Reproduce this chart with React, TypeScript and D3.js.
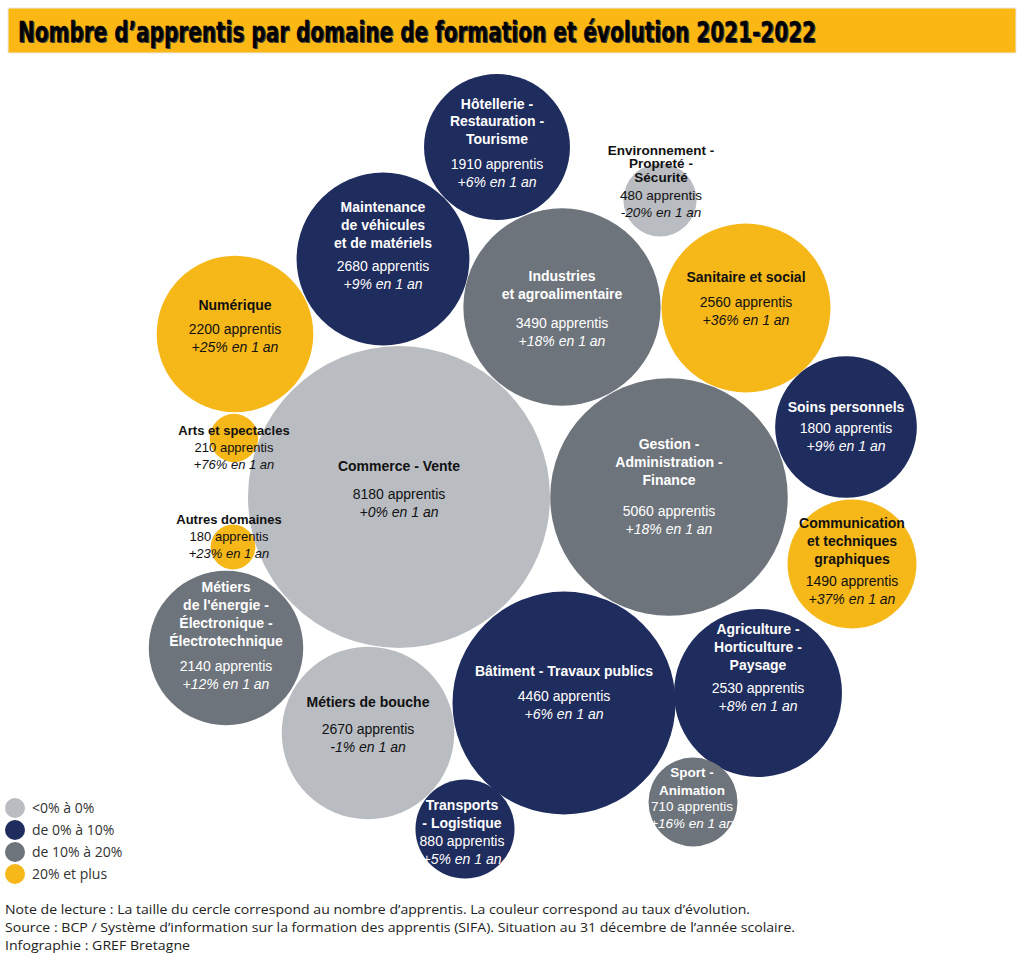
import React from "react";
import * as d3 from "d3";

// ---- Data ----
const domains = [
  "Commerce - Vente",
  "Gestion - Administration - Finance",
  "Bâtiment - Travaux publics",
  "Industries et agroalimentaire",
  "Maintenance de véhicules et de matériels",
  "Métiers de bouche",
  "Sanitaire et social",
  "Agriculture - Horticulture - Paysage",
  "Numérique",
  "Métiers de l'énergie - Électronique - Électrotechnique",
  "Hôtellerie - Restauration - Tourisme",
  "Soins personnels",
  "Communication et techniques graphiques",
  "Transports - Logistique",
  "Sport - Animation",
  "Environnement - Propreté - Sécurité",
  "Arts et spectacles",
  "Autres domaines",
];
const nameLines: string[][] = [
  ["Commerce - Vente"],
  ["Gestion -", "Administration -", "Finance"],
  ["Bâtiment - Travaux publics"],
  ["Industries", "et agroalimentaire"],
  ["Maintenance", "de véhicules", "et de matériels"],
  ["Métiers de bouche"],
  ["Sanitaire et social"],
  ["Agriculture -", "Horticulture -", "Paysage"],
  ["Numérique"],
  ["Métiers", "de l'énergie -", "Électronique -", "Électrotechnique"],
  ["Hôtellerie -", "Restauration -", "Tourisme"],
  ["Soins personnels"],
  ["Communication", "et techniques", "graphiques"],
  ["Transports", "- Logistique"],
  ["Sport -", "Animation"],
  ["Environnement -", "Propreté -", "Sécurité"],
  ["Arts et spectacles"],
  ["Autres domaines"],
];
const apprentis = [8180, 5060, 4460, 3490, 2680, 2670, 2560, 2530, 2200, 2140, 1910, 1800, 1490, 880, 710, 480, 210, 180];
const evolution = [0, 18, 6, 18, 9, -1, 36, 8, 25, 12, 6, 9, 37, 5, 16, -20, 76, 23];

const legendLabels = ["<0% à 0%", "de 0% à 10%", "de 10% à 20%", "20% et plus"];
const palette = ["#b9bcc1", "#1f2c5e", "#6e747c", "#f6b719"];

// ---- Layout (bubble placement, label placement) ----
const centerX = [399, 669, 564, 562, 383, 368, 746, 758, 235, 226, 497, 846, 852, 465, 693, 660, 234, 233];
const centerY = [497, 497, 703, 307, 259, 733, 308, 693, 334, 648, 147, 427, 564, 829, 802, 200, 438, 547];
const labelX = [399, 669, 564, 562, 383, 368, 746, 758, 235, 226, 497, 846, 852, 462, 692, 661, 234, 229];
const nameY = [466, 444, 671, 276, 207, 702, 277, 629, 305, 587, 104, 407, 523, 805, 772, 150, 430, 519];
const valueY = [494, 511, 696, 323, 266, 729, 302, 688, 329, 666, 164, 428, 581, 841, 806, 195, 447, 536];
const lineGap = [18, 18, 18, 18, 18, 18, 18, 18, 18, 18, 17.5, 18, 18, 18, 18, 13.5, 18, 18];
const fontSz = [14, 14, 14, 14, 14, 14, 14, 14, 14, 14, 14, 14, 14, 14, 13.5, 13.5, 13, 13];

const footer = [
  "Note de lecture : La taille du cercle correspond au nombre d’apprentis. La couleur correspond au taux d’évolution.",
  "Source : BCP / Système d’information sur la formation des apprentis (SIFA). Situation au 31 décembre de l’année scolaire.",
  "Infographie : GREF Bretagne",
];
const footerWidths = [745, 790, 185];

export default function App() {
  const radius = d3.scaleSqrt().domain([0, d3.max(apprentis) as number]).range([0, 151]);
  const color = d3.scaleThreshold<number, string>().domain([1, 10, 20]).range(palette);
  const textColor = (ev: number) => {
    const c = color(ev);
    return c === palette[1] || c === palette[2] ? "#ffffff" : "#111111";
  };
  const fmtEv = (ev: number) => `${ev >= 0 ? "+" : ""}${ev}% en 1 an`;
  const idx = d3.range(domains.length);
  const font = "'Liberation Sans', Arial, sans-serif";
  const titleFont = "'Liberation Sans Narrow', 'DejaVu Sans Condensed', sans-serif";
  const title = "Nombre d’apprentis par domaine de formation et évolution 2021-2022";

  return (
    <svg
      width={1024}
      height={960}
      style={{ position: "absolute", left: 0, top: 0, background: "#ffffff" }}
    >
      <rect x={0} y={0} width={1024} height={960} fill="#ffffff" />
      {/* Title bar */}
      <rect x={8} y={8} width={1008} height={45} fill="#fbb815" stroke="#e9e9e9" strokeWidth={1} />
      <text
        x={19.2}
        y={43.2}
        fontFamily={titleFont}
        fontWeight="bold"
        fontSize={29}
        fill="#444"
        textLength={798}
        lengthAdjust="spacingAndGlyphs"
      >
        {title}
      </text>
      <text
        x={18}
        y={42}
        fontFamily={titleFont}
        fontWeight="bold"
        fontSize={29}
        fill="#000000"
        stroke="#000"
        strokeWidth={0.3}
        textLength={798}
        lengthAdjust="spacingAndGlyphs"
      >
        {title}
      </text>

      {/* Bubbles */}
      <g>
        {idx.map((i) => (
          <circle key={domains[i]} cx={centerX[i]} cy={centerY[i]} r={radius(apprentis[i])} fill={color(evolution[i])} />
        ))}
      </g>

      {/* Labels */}
      <g fontFamily={font} textAnchor="middle">
        {idx.map((i) => {
          const fc = textColor(evolution[i]);
          const fs = fontSz[i];
          return (
            <g key={"l" + i} fill={fc}>
              {nameLines[i].map((ln, j) => (
                <text key={j} x={labelX[i]} y={nameY[i] + j * lineGap[i]} dy="0.35em" fontWeight="bold" fontSize={fs}>
                  {ln}
                </text>
              ))}
              <text x={labelX[i]} y={valueY[i]} dy="0.35em" fontSize={fs}>
                {apprentis[i]} apprentis
              </text>
              <text x={labelX[i]} y={valueY[i] + (fs < 14 ? 17 : 18)} dy="0.35em" fontSize={fs} fontStyle="italic">
                {fmtEv(evolution[i])}
              </text>
            </g>
          );
        })}
      </g>

      {/* Legend */}
      <g fontFamily="'Open Sans', sans-serif" fontSize={14} fill="#333">
        {legendLabels.map((lab, k) => (
          <g key={lab} transform={`translate(15, ${808 + k * 22})`}>
            <circle r={10} fill={palette[k]} />
            <text x={17} dy="0.35em">
              {lab}
            </text>
          </g>
        ))}
      </g>

      {/* Footer */}
      <g fontFamily="'Open Sans', sans-serif" fontSize={13} fill="#222">
        {footer.map((t, k) => (
          <text key={k} x={5} y={914 + k * 18} textLength={footerWidths[k]} lengthAdjust="spacingAndGlyphs">
            {t}
          </text>
        ))}
      </g>
    </svg>
  );
}
